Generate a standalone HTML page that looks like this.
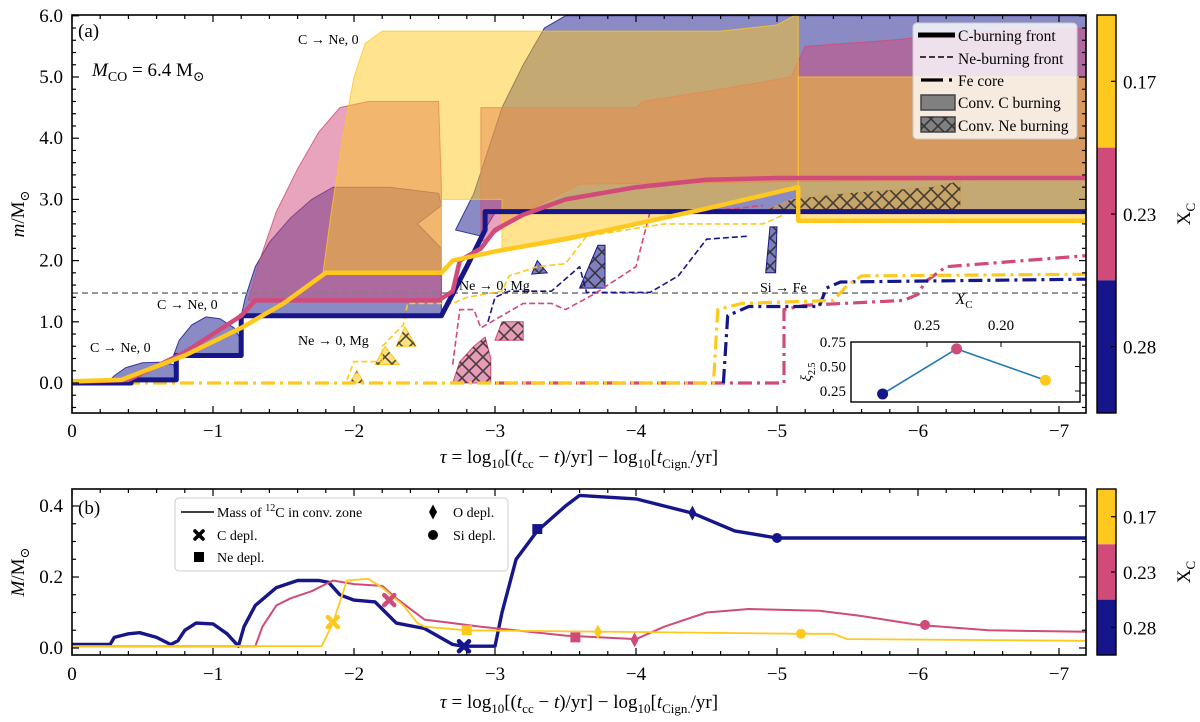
<!DOCTYPE html>
<html><head><meta charset="utf-8">
<style>
html,body{margin:0;padding:0;background:#fff;}
svg{display:block;font-family:"Liberation Serif","DejaVu Serif",serif;}
</style></head>
<body>
<svg id="chart" width="1200" height="722" viewBox="0 0 1200 722">
<defs>
<pattern id="hatch" patternUnits="userSpaceOnUse" width="14" height="14">
<path d="M0,0 L14,14 M14,0 L0,14" stroke="#222" stroke-width="1.6" opacity="0.8"/>
</pattern>
<clipPath id="clipA"><rect x="72" y="15" width="1014" height="398"/></clipPath>
<clipPath id="clipB"><rect x="72" y="489" width="1014" height="166"/></clipPath>
<clipPath id="clipI"><rect x="851" y="342" width="229" height="60"/></clipPath>
</defs>
<g id="gA" clip-path="url(#clipA)"></g>
<g id="gB" clip-path="url(#clipB)"></g>
<g id="gAx"></g>
</svg>
<script>
// ---------- data (tau given as magnitude |tau|; plotted at -|tau|) ----------
const seriesNames = ["XC=0.28", "XC=0.23", "XC=0.17"];
const seriesColors = ["#16168a", "#d04a7a", "#ffc81f"];
const xTickLabels = ["0", "−1", "−2", "−3", "−4", "−5", "−6", "−7"];
const yTickLabelsA = ["0.0", "1.0", "2.0", "3.0", "4.0", "5.0", "6.0"];
const yTickLabelsB = ["0.0", "0.2", "0.4"];
const cbarLabels = ["0.17", "0.23", "0.28"];

const convNavy1 = [[0.27,0.05],[0.3,0.12],[0.38,0.25],[0.5,0.33],[0.62,0.34],[0.72,0.3],[0.74,0.05]];
const convNavy2 = [[0.72,0.45],[0.76,0.7],[0.85,0.95],[0.95,1.08],[1.05,1.05],[1.15,0.9],[1.2,0.7],[1.21,0.45]];
const convNavy3 = [[1.2,1.1],[1.23,1.4],[1.3,1.9],[1.4,2.3],[1.55,2.7],[1.7,3.0],[1.85,3.2],[2.25,3.2],[2.6,3.1],[2.62,2.9],[2.45,2.6],[2.62,2.2],[2.62,1.1]];
const convNavy4 = [[2.72,2.5],[2.85,3.1],[2.95,3.8],[3.05,4.5],[3.2,5.2],[3.35,5.8],[3.5,6.0],[7.3,6.0],[7.3,2.78],[3.0,2.78],[2.9,2.4]];
const convPink1 = [[1.25,1.35],[1.33,2.0],[1.45,2.8],[1.6,3.5],[1.75,4.1],[1.9,4.5],[2.1,4.6],[2.6,4.6],[2.62,3.2],[2.62,1.35]];
const convPink2 = [[2.9,2.3],[2.9,4.5],[4.0,4.5],[4.05,4.6],[4.6,4.8],[5.1,5.0],[5.2,5.5],[5.8,5.6],[6.5,5.75],[7.3,5.8],[7.3,3.35],[3.6,3.25],[3.3,2.9]];
const convYellow1 = [[1.78,1.8],[1.84,2.8],[1.92,4.0],[2.0,5.0],[2.08,5.55],[2.2,5.75],[4.6,5.75],[5.0,5.85],[5.12,6.0],[5.15,6.0],[5.15,3.2],[4.0,2.6],[3.05,2.2],[3.05,3.0],[2.62,3.0],[2.62,1.8]];
const convYellow2 = [[5.15,2.65],[5.15,5.0],[7.3,5.0],[7.3,2.65]];

const neHatchYellow = [[[1.97,0.0],[2.02,0.2],[2.07,0.0]],[[2.15,0.3],[2.22,0.6],[2.32,0.3]],[[2.3,0.6],[2.36,0.92],[2.44,0.6]]];
const neHatchPink = [[[2.7,0.0],[2.75,0.35],[2.85,0.6],[2.93,0.75],[2.97,0.4],[2.97,0.0]],[[3.0,0.7],[3.05,1.0],[3.2,1.0],[3.2,0.7]]];
const neHatchNavy = [[[3.6,1.55],[3.73,2.25],[3.78,2.25],[3.78,1.55]],[[3.26,1.78],[3.3,2.0],[3.37,1.8]],[[4.92,1.8],[4.95,2.55],[5.0,2.55],[4.99,1.8]]];
const neHatchBrown = [[4.9,2.8],[5.1,3.0],[5.5,3.1],[6.1,3.2],[6.3,3.3],[6.3,2.8]];

const cFrontNavy = [[0,0],[0.42,0],[0.42,0.05],[0.74,0.05],[0.74,0.45],[1.2,0.45],[1.2,1.1],[2.62,1.1],[2.8,1.9],[2.93,2.5],[2.93,2.8],[7.3,2.8]];
const cFrontPink = [[0,0.02],[0.4,0.05],[0.8,0.5],[1.0,0.8],[1.2,1.1],[1.3,1.35],[2.6,1.35],[2.7,1.5],[2.75,2.0],[2.9,2.2],[3.0,2.5],[3.2,2.75],[3.5,3.0],[4.0,3.2],[4.5,3.32],[5.0,3.35],[7.3,3.35]];
const cFrontYellow = [[0,0.03],[0.35,0.05],[0.8,0.45],[1.2,0.9],[1.5,1.3],[1.8,1.8],[2.62,1.8],[2.7,2.0],[3.0,2.15],[3.5,2.35],[4.0,2.6],[4.5,2.85],[5.15,3.2],[5.15,2.65],[7.3,2.65]];
const neFrontYellow = [[1.95,0.05],[2.0,0.35],[2.2,0.35],[2.2,0.6],[2.35,0.95],[2.38,1.3],[2.7,1.3],[2.8,1.4],[3.05,1.5],[3.1,1.75],[3.3,1.9],[3.5,1.95],[3.65,2.4],[4.2,2.6],[4.9,2.6],[5.05,2.75]];
const neFrontNavy = [[2.95,1.0],[3.0,1.4],[3.1,1.5],[3.4,1.5],[3.6,1.9],[3.65,1.48],[4.1,1.48],[4.3,1.75],[4.5,2.35],[4.8,2.4]];
const neFrontPink = [[2.7,0.3],[2.75,1.2],[2.85,1.2],[2.9,0.9],[3.05,1.1],[3.2,1.3],[3.4,1.3],[3.5,1.2],[3.7,1.45],[4.0,1.9],[4.1,2.8],[4.4,2.8],[4.7,2.85],[4.9,2.9]];
const feNavy = [[4.62,0],[4.65,1.1],[4.8,1.25],[5.3,1.25],[5.35,1.55],[5.45,1.65],[7.3,1.7]];
const fePink = [[3.0,0],[5.05,0],[5.05,1.2],[5.2,1.27],[5.9,1.35],[6.0,1.45],[6.05,1.65],[6.2,1.9],[7.3,2.1]];
const feYellow = [[0,0],[4.55,0],[4.58,1.2],[4.75,1.3],[5.4,1.35],[5.5,1.6],[5.6,1.75],[7.3,1.78]];
const grayLineM = 1.47;

const insetXC = [0.28, 0.23, 0.17];
const insetXi = [0.22, 0.68, 0.36];

const massNavy = [[0,0.01],[0.27,0.01],[0.3,0.03],[0.4,0.04],[0.48,0.043],[0.6,0.03],[0.7,0.01],[0.75,0.02],[0.8,0.05],[0.88,0.07],[1.0,0.068],[1.1,0.04],[1.18,0.005],[1.22,0.06],[1.3,0.12],[1.45,0.17],[1.6,0.19],[1.75,0.19],[1.82,0.185],[1.9,0.15],[2.0,0.135],[2.15,0.13],[2.3,0.07],[2.5,0.055],[2.7,0.01],[2.78,0.005],[3.0,0.005],[3.05,0.1],[3.15,0.25],[3.3,0.33],[3.5,0.4],[3.6,0.43],[4.0,0.42],[4.4,0.38],[4.7,0.33],[5.0,0.31],[7.3,0.31]];
const massPink = [[0,0.005],[1.3,0.005],[1.35,0.06],[1.45,0.12],[1.55,0.14],[1.7,0.16],[1.85,0.19],[2.0,0.18],[2.2,0.175],[2.3,0.14],[2.5,0.08],[2.7,0.07],[2.9,0.06],[3.5,0.035],[4.0,0.025],[4.2,0.06],[4.5,0.1],[4.8,0.11],[5.3,0.105],[5.6,0.09],[6.0,0.065],[6.5,0.05],[7.3,0.045]];
const massYellow = [[0,0.005],[1.77,0.005],[1.85,0.07],[1.95,0.19],[2.1,0.195],[2.2,0.17],[2.35,0.12],[2.45,0.07],[2.5,0.06],[2.8,0.05],[4.0,0.045],[5.2,0.04],[5.4,0.04],[5.5,0.025],[7.3,0.02]];
const markNavy = [[2.78,0.005],[3.3,0.335],[4.4,0.38],[5.0,0.31]];
const markPink = [[2.25,0.135],[3.57,0.03],[3.99,0.023],[6.05,0.065]];
const markYellow = [[1.85,0.073],[2.8,0.05],[3.73,0.045],[5.17,0.04]];
const markTypes = ["cross","square","diamond","circle"];

const NS = "http://www.w3.org/2000/svg";
const X = t => 72 + t * 141;
const YA = m => 383 - m * 61.2;
const YB = M => 648 - M * 355;
const XI = xc => 927 - (xc - 0.25) * 1480;
const YI = v => 391 - (v - 0.25) * 98;
const gA = document.getElementById("gA"), gB = document.getElementById("gB"), gAx = document.getElementById("gAx");

function mk(tag, attrs, parent){ const e=document.createElementNS(NS,tag); for(const k in attrs) e.setAttribute(k,attrs[k]); parent.appendChild(e); return e; }
function pts(arr, fy){ return arr.map(p => X(p[0]).toFixed(1)+","+fy(p[1]).toFixed(1)).join(" "); }

function region(arr, color, op, name){
  const e = mk("polygon",{points:pts(arr,YA),fill:color,"fill-opacity":op,stroke:color,"stroke-width":1,"stroke-opacity":0.8},gA);
  
  
}
region(convNavy1, seriesColors[0], 0.5, "conv-c-burning-navy-1");
region(convNavy2, seriesColors[0], 0.5, "conv-c-burning-navy-2");
region(convNavy3, seriesColors[0], 0.5, "conv-c-burning-navy-3");
region(convNavy4, seriesColors[0], 0.5, "conv-c-burning-navy-4");
region(convPink1, seriesColors[1], 0.5, "conv-c-burning-pink-1");
region(convPink2, seriesColors[1], 0.5, "conv-c-burning-pink-2");
region(convYellow1, seriesColors[2], 0.5, "conv-c-burning-yellow-1");
region(convYellow2, seriesColors[2], 0.5, "conv-c-burning-yellow-2");

function hatchRegion(arr, color, name){
  const a = mk("polygon",{points:pts(arr,YA),fill:color,"fill-opacity":0.55,stroke:color,"stroke-width":1},gA);
  
  
  const b = mk("polygon",{points:pts(arr,YA),fill:"url(#hatch)"},gA);
  
  
}
neHatchYellow.forEach((r,i)=>hatchRegion(r, seriesColors[2], "conv-ne-burning-yellow-"+i));
neHatchPink.forEach((r,i)=>hatchRegion(r, seriesColors[1], "conv-ne-burning-pink-"+i));
neHatchNavy.forEach((r,i)=>hatchRegion(r, seriesColors[0], "conv-ne-burning-navy-"+i));
hatchRegion(neHatchBrown, "#c8a060", "conv-ne-burning-right");

const gl = mk("line",{x1:72,x2:1086,y1:YA(grayLineM),y2:YA(grayLineM),stroke:"#808080","stroke-width":1.6,"stroke-dasharray":"6,4"},gA);



function line(arr, fy, parent, color, w, dash, name){
  const e = mk("polyline",{points:pts(arr,fy),fill:"none",stroke:color,"stroke-width":w,"stroke-linejoin":"round"},parent);
  if(dash) e.setAttribute("stroke-dasharray", dash);
  
  
}
line(neFrontNavy, YA, gA, seriesColors[0], 1.6, "6,3", "ne-front-navy");
line(neFrontPink, YA, gA, seriesColors[1], 1.6, "6,3", "ne-front-pink");
line(neFrontYellow, YA, gA, seriesColors[2], 1.6, "6,3", "ne-front-yellow");
line(fePink, YA, gA, seriesColors[1], 3.2, "14,5,3,5", "fe-core-pink");
line(feNavy, YA, gA, seriesColors[0], 3.2, "14,5,3,5", "fe-core-navy");
line(feYellow, YA, gA, seriesColors[2], 3.2, "14,5,3,5", "fe-core-yellow");
line(cFrontNavy, YA, gA, seriesColors[0], 5, null, "c-front-navy");
line(cFrontPink, YA, gA, seriesColors[1], 4.5, null, "c-front-pink");
line(cFrontYellow, YA, gA, seriesColors[2], 4.5, null, "c-front-yellow");

line(massNavy, YB, gB, seriesColors[0], 3.4, null, "c12-mass-navy");
line(massPink, YB, gB, seriesColors[1], 2.0, null, "c12-mass-pink");
line(massYellow, YB, gB, seriesColors[2], 1.8, null, "c12-mass-yellow");

function marker(type, cx, cy, color, parent, s){
  let e;
  if(type==="circle") e = mk("circle",{cx:cx,cy:cy,r:s},parent);
  else if(type==="square") e = mk("rect",{x:cx-s,y:cy-s,width:2*s,height:2*s},parent);
  else if(type==="diamond") e = mk("polygon",{points:`${cx},${cy-s*1.5} ${cx+s*0.8},${cy} ${cx},${cy+s*1.5} ${cx-s*0.8},${cy}`},parent);
  else e = mk("path",{d:`M${cx-s},${cy-s}L${cx+s},${cy+s}M${cx+s},${cy-s}L${cx-s},${cy+s}`,stroke:color,"stroke-width":s*0.9,"stroke-linecap":"round"},parent);
  e.setAttribute("fill", color);
  return e;
}
[[markNavy,0],[markPink,1],[markYellow,2]].forEach(([arr,ci])=>{
  arr.forEach((p,i)=>{
    const e = marker(markTypes[i], X(p[0]), YB(p[1]), seriesColors[ci], gB, 5);
    
    
  });
});

function txt(s, x, y, size, anchor, parent, name, extra){
  const e = mk("text",Object.assign({x:x,y:y,"font-size":size,"text-anchor":anchor||"start",fill:"#000"},extra||{}),parent);
  e.innerHTML = s;
  
  
  return e;
}
function frame(y0,y1,name){
  const r = mk("rect",{x:72,y:y0,width:1014,height:y1-y0,fill:"none",stroke:"#000","stroke-width":1.6},gAx);
  
  
}
frame(15,413,"panel-a-frame");
frame(489,655,"panel-b-frame");

function xTicks(y0,y1,labY,pre){
  for(let k=0;k<=36;k++){
    const t=k*0.2, x=X(t); if(x>1086) break;
    const L = (k%5===0)?7:4;
    mk("line",{x1:x,x2:x,y1:y1,y2:y1-L,stroke:"#000","stroke-width":1.2},gAx);
    mk("line",{x1:x,x2:x,y1:y0,y2:y0+L,stroke:"#000","stroke-width":1.2},gAx);
  }
  xTickLabels.forEach((s,i)=>txt(s, X(i), labY, 19, "middle", gAx, pre+"-x-tick-label"));
}
xTicks(15,413,437,"panel-a");
xTicks(489,655,680,"panel-b");
for(let k=-2;k<=30;k++){const m=k*0.2,y=YA(m); if(y>413||y<15) continue; const L=(k%5===0)?7:4;
  mk("line",{x1:72,x2:72+L,y1:y,y2:y,stroke:"#000","stroke-width":1.2},gAx);
  mk("line",{x1:1086,x2:1086-L,y1:y,y2:y,stroke:"#000","stroke-width":1.2},gAx);}
yTickLabelsA.forEach((s,i)=>txt(s, 63, YA(i)+6, 19, "end", gAx, "panel-a-y-tick-label"));
for(let k=0;k<=9;k++){const M=k*0.05,y=YB(M); if(y<489) continue; const L=(k%4===0)?7:4;
  mk("line",{x1:72,x2:72+L,y1:y,y2:y,stroke:"#000","stroke-width":1.2},gAx);
  mk("line",{x1:1086,x2:1086-L,y1:y,y2:y,stroke:"#000","stroke-width":1.2},gAx);}
yTickLabelsB.forEach((s,i)=>txt(s, 63, YB(i*0.2)+6, 19, "end", gAx, "panel-b-y-tick-label"));

const xl = '<tspan font-style="italic">τ</tspan> = log<tspan font-size="13" dy="5">10</tspan><tspan dy="-5">[(</tspan><tspan font-style="italic">t</tspan><tspan font-size="13" dy="5">cc</tspan><tspan dy="-5"> − </tspan><tspan font-style="italic">t</tspan>)/yr] − log<tspan font-size="13" dy="5">10</tspan><tspan dy="-5">[</tspan><tspan font-style="italic">t</tspan><tspan font-size="13" dy="5">Cign.</tspan><tspan dy="-5">/yr]</tspan>';
txt(xl, 579, 463, 19, "middle", gAx, "panel-a-x-axis-title");
txt(xl, 579, 708, 19, "middle", gAx, "panel-b-x-axis-title");
txt('<tspan font-style="italic">m</tspan>/M<tspan font-size="13" dy="5">⊙</tspan>', 0, 0, 19, "middle", gAx, "panel-a-y-axis-title", {transform:"translate(24,214) rotate(-90)"});
txt('<tspan font-style="italic">M</tspan>/M<tspan font-size="13" dy="5">⊙</tspan>', 0, 0, 19, "middle", gAx, "panel-b-y-axis-title", {transform:"translate(24,572) rotate(-90)"});

txt("(a)", 78, 37, 19, "start", gAx, "panel-a-label");
txt("(b)", 78, 514, 19, "start", gAx, "panel-b-label");
txt('<tspan font-style="italic">M</tspan><tspan font-size="14" dy="5">CO</tspan><tspan dy="-5"> = 6.4 M</tspan><tspan font-size="14" dy="5">⊙</tspan>', 92, 76, 19, "start", gAx, "mco-annotation");
txt("C → Ne, 0", 90, 352, 14, "start", gAx, "annotation-c-ne-1");
txt("C → Ne, 0", 157, 309, 14, "start", gAx, "annotation-c-ne-2");
txt("C → Ne, 0", 298, 44, 14, "start", gAx, "annotation-c-ne-3");
txt("Ne → 0, Mg", 298, 345, 14, "start", gAx, "annotation-ne-o-1");
txt("Ne → 0, Mg", 459, 290, 14, "start", gAx, "annotation-ne-o-2");
txt("Si → Fe", 760, 292, 14, "start", gAx, "annotation-si-fe");

const la = mk("rect",{x:913,y:23,width:164,height:116,rx:4,fill:"#fff","fill-opacity":0.8,stroke:"#ccc"},gAx);


mk("line",{x1:918,x2:955,y1:35,y2:35,stroke:"#000","stroke-width":5},gAx);
mk("line",{x1:920,x2:955,y1:57,y2:57,stroke:"#000","stroke-width":1.6,"stroke-dasharray":"6,3"},gAx);
mk("line",{x1:921,x2:955,y1:80,y2:80,stroke:"#000","stroke-width":3.2,"stroke-dasharray":"22,6,3,6"},gAx);
mk("rect",{x:921,y:95,width:34,height:15,fill:"#808080",stroke:"#444","stroke-width":1.5},gAx);
mk("rect",{x:921,y:117,width:34,height:15,fill:"#808080",stroke:"#444","stroke-width":1.5},gAx);
mk("rect",{x:921,y:117,width:34,height:15,fill:"url(#hatch)"},gAx);
txt("C-burning front", 958, 41, 15.5, "start", gAx, "legend-entry-c-front");
txt("Ne-burning front", 958, 64, 15.5, "start", gAx, "legend-entry-ne-front");
txt("Fe core", 958, 86, 15.5, "start", gAx, "legend-entry-fe-core");
txt("Conv. C burning", 958, 108, 15.5, "start", gAx, "legend-entry-conv-c");
txt("Conv. Ne burning", 958, 131, 15.5, "start", gAx, "legend-entry-conv-ne");

const lb = mk("rect",{x:175,y:498,width:333,height:73,rx:4,fill:"#fff","fill-opacity":0.8,stroke:"#ccc"},gAx);


mk("line",{x1:181,x2:214,y1:512,y2:512,stroke:"#000","stroke-width":1.6},gAx);
marker("cross",199,535,"#000",gAx,4);
marker("square",199,557,"#000",gAx,5);
marker("diamond",433,512,"#000",gAx,5);
marker("circle",433,535,"#000",gAx,5);
txt('Mass of <tspan font-size="10" dy="-6">12</tspan><tspan dy="6">C in conv. zone</tspan>', 217, 517, 14, "start", gAx, "legend-entry-mass");
txt("C depl.", 217, 540, 14, "start", gAx, "legend-entry-c-depl");
txt("Ne depl.", 217, 562, 14, "start", gAx, "legend-entry-ne-depl");
txt("O depl.", 453, 517, 14, "start", gAx, "legend-entry-o-depl");
txt("Si depl.", 453, 540, 14, "start", gAx, "legend-entry-si-depl");

function cbar(y0,y1,pre){
  const h=(y1-y0)/3;
  [2,1,0].forEach((ci,i)=>{
    const r = mk("rect",{x:1097,y:y0+i*h,width:19,height:h,fill:seriesColors[ci]},gAx);
    
    
    mk("line",{x1:1116,x2:1111,y1:y0+i*h+h/2,y2:y0+i*h+h/2,stroke:"#000","stroke-width":1.2},gAx);
    txt(cbarLabels[i], 1123, y0+i*h+h/2+7, 19, "start", gAx, pre+"-colorbar-tick-label");
  });
  mk("rect",{x:1097,y:y0,width:19,height:y1-y0,fill:"none",stroke:"#000","stroke-width":1.4},gAx);
  txt('X<tspan font-size="13" dy="5">C</tspan>', 0, 0, 19, "middle", gAx, pre+"-colorbar-title", {transform:`translate(1190,${(y0+y1)/2}) rotate(-90)`});
}
cbar(15,413,"panel-a");
cbar(489,655,"panel-b");

const ib = mk("rect",{x:851,y:342,width:229,height:60,fill:"#fff",stroke:"#000","stroke-width":1.4},gAx);


const gI = mk("g",{"clip-path":"url(#clipI)"},gAx);
const ipl = mk("polyline",{points:insetXC.map((x,i)=>XI(x)+","+YI(insetXi[i])).join(" "),fill:"none",stroke:"#1f77b4","stroke-width":1.6},gI);


insetXC.forEach((x,i)=>{
  const c = mk("circle",{cx:XI(x),cy:YI(insetXi[i]),r:5.5,fill:seriesColors[i]},gAx);
  
  
});
[0.25,0.5,0.75].forEach(v=>{ mk("line",{x1:1080,x2:1075,y1:YI(v),y2:YI(v),stroke:"#000"},gAx); txt(v.toFixed(2), 846, YI(v)+5, 15, "end", gAx, "inset-y-tick-label"); });
[0.25,0.20].forEach(v=>{ mk("line",{x1:XI(v),x2:XI(v),y1:342,y2:347,stroke:"#000"},gAx); txt(v.toFixed(2), XI(v), 330, 15, "middle", gAx, "inset-x-tick-label"); });
txt('<tspan font-style="italic">X</tspan><tspan font-size="11" dy="4">C</tspan>', 964, 304, 16, "middle", gAx, "inset-x-axis-title");
txt('<tspan font-style="italic">ξ</tspan><tspan font-size="10" dy="4">2.5</tspan>', 0, 0, 15, "middle", gAx, "inset-y-axis-title", {transform:"translate(811,372) rotate(-90)"});
</script>
</body></html>
